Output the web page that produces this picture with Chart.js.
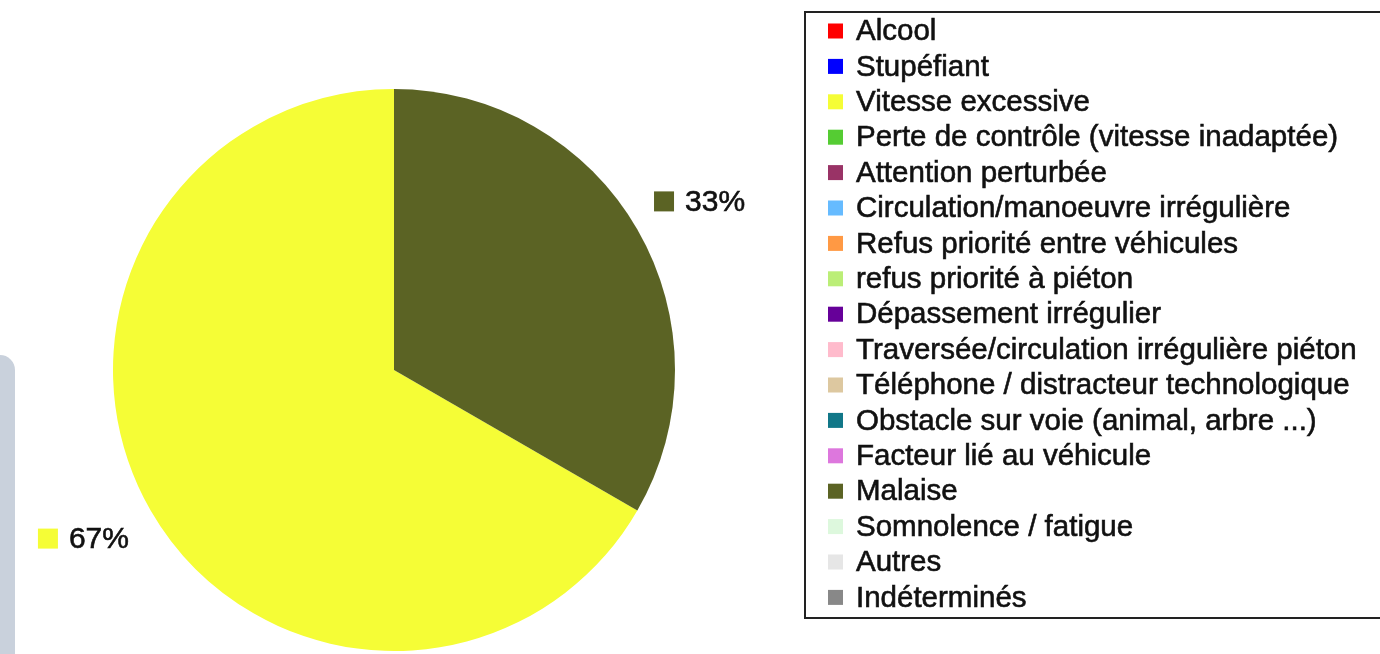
<!DOCTYPE html>
<html>
<head>
<meta charset="utf-8">
<script src="https://cdn.jsdelivr.net/npm/chart.js@4"></script>
<style>
  html, body { margin: 0; padding: 0; background: #ffffff; }
  #wrap { position: relative; width: 1380px; height: 654px; overflow: hidden; }
  #side { position: absolute; left: 0; top: 355px; width: 15px; height: 320px; background: #c9d1dc; border-top-right-radius: 15px; }
  #c { position: absolute; left: 0; top: 0; }
</style>
</head>
<body>
<div id="wrap">
  <div id="side"></div>
  <canvas id="c" width="1380" height="654"></canvas>
</div>
<script>
const categories = [
  "Alcool",
  "Stupéfiant",
  "Vitesse excessive",
  "Perte de contrôle (vitesse inadaptée)",
  "Attention perturbée",
  "Circulation/manoeuvre irrégulière",
  "Refus priorité entre véhicules",
  "refus priorité à piéton",
  "Dépassement irrégulier",
  "Traversée/circulation irrégulière piéton",
  "Téléphone / distracteur technologique",
  "Obstacle sur voie (animal, arbre ...)",
  "Facteur lié au véhicule",
  "Malaise",
  "Somnolence / fatigue",
  "Autres",
  "Indéterminés"
];
const values = [0, 0, 2, 0, 0, 0, 0, 0, 0, 0, 0, 0, 0, 1, 0, 0, 0];
const colors = [
  "#ff0000", "#0000ff", "#f5fd36", "#55cc33", "#993366", "#66bbff",
  "#ff9944", "#bbee77", "#660099", "#ffbbcc", "#ddc8a0", "#117788",
  "#dd77dd", "#5b6324", "#ddf8dd", "#e6e6e6", "#888888"
];

const total = values.reduce((a, b) => a + b, 0);
// slices after "Vitesse excessive" in data order start at the top (clockwise)
const startIndex = categories.indexOf("Vitesse excessive");
const afterShare = values.slice(startIndex + 1).reduce((a, b) => a + b, 0) / total;

function heavyText(ctx, txt, x, y) {
  ctx.fillText(txt, x, y);
  ctx.strokeText(txt, x, y);
}

const overlay = {
  id: 'overlay',
  afterDraw(chart) {
    const ctx = chart.ctx;
    const data = chart.data;
    const ds = data.datasets[0];
    // legend box
    ctx.save();
    ctx.strokeStyle = '#222222';
    ctx.lineWidth = 2;
    ctx.strokeRect(805, 12, 600, 606);
    ctx.font = "29.5px 'Liberation Sans', Arial, sans-serif";
    ctx.textBaseline = 'middle';
    ctx.textAlign = 'left';
    ctx.lineWidth = 0.6;
    ctx.strokeStyle = '#111111';
    data.labels.forEach((lab, i) => {
      const y = 31 + i * 35.4;
      ctx.fillStyle = ds.backgroundColor[i];
      ctx.fillRect(828, y - 7.5, 15, 15);
      ctx.fillStyle = '#111111';
      heavyText(ctx, lab, 856, y + 1);
    });
    // percentage labels
    const meta = chart.getDatasetMeta(0);
    ctx.font = "30px 'Liberation Sans', Arial, sans-serif";
    meta.data.forEach((arc, i) => {
      const v = ds.data[i];
      if (!v) return;
      const p = arc.getProps(['x', 'y', 'startAngle', 'endAngle', 'outerRadius'], true);
      const mid = (p.startAngle + p.endAngle) / 2;
      const d = p.outerRadius * 1.2;
      const px = p.x + Math.cos(mid) * d;
      const py = p.y + Math.sin(mid) * d;
      const txt = Math.round(v / total * 100) + '%';
      const tw = ctx.measureText(txt).width;
      const sq = 20, gap = 11;
      let left;
      if (Math.cos(mid) >= 0) left = px - 32;
      else left = px + 27 - (sq + gap + tw);
      ctx.fillStyle = ds.backgroundColor[i];
      ctx.fillRect(left, py - sq / 2, sq, sq);
      ctx.fillStyle = '#111111';
      heavyText(ctx, txt, left + sq + gap, py + 1);
    });
    ctx.restore();
  }
};

new Chart(document.getElementById('c'), {
  type: 'pie',
  data: {
    labels: categories,
    datasets: [{
      data: values,
      backgroundColor: colors,
      borderWidth: 0
    }]
  },
  options: {
    responsive: false,
    animation: false,
    rotation: 360 * afterShare,
    layout: { padding: { left: 113, right: 705, top: 89, bottom: 3 } },
    plugins: {
      legend: { display: false },
      tooltip: { enabled: false }
    }
  },
  plugins: [overlay]
});
</script>
</body>
</html>
